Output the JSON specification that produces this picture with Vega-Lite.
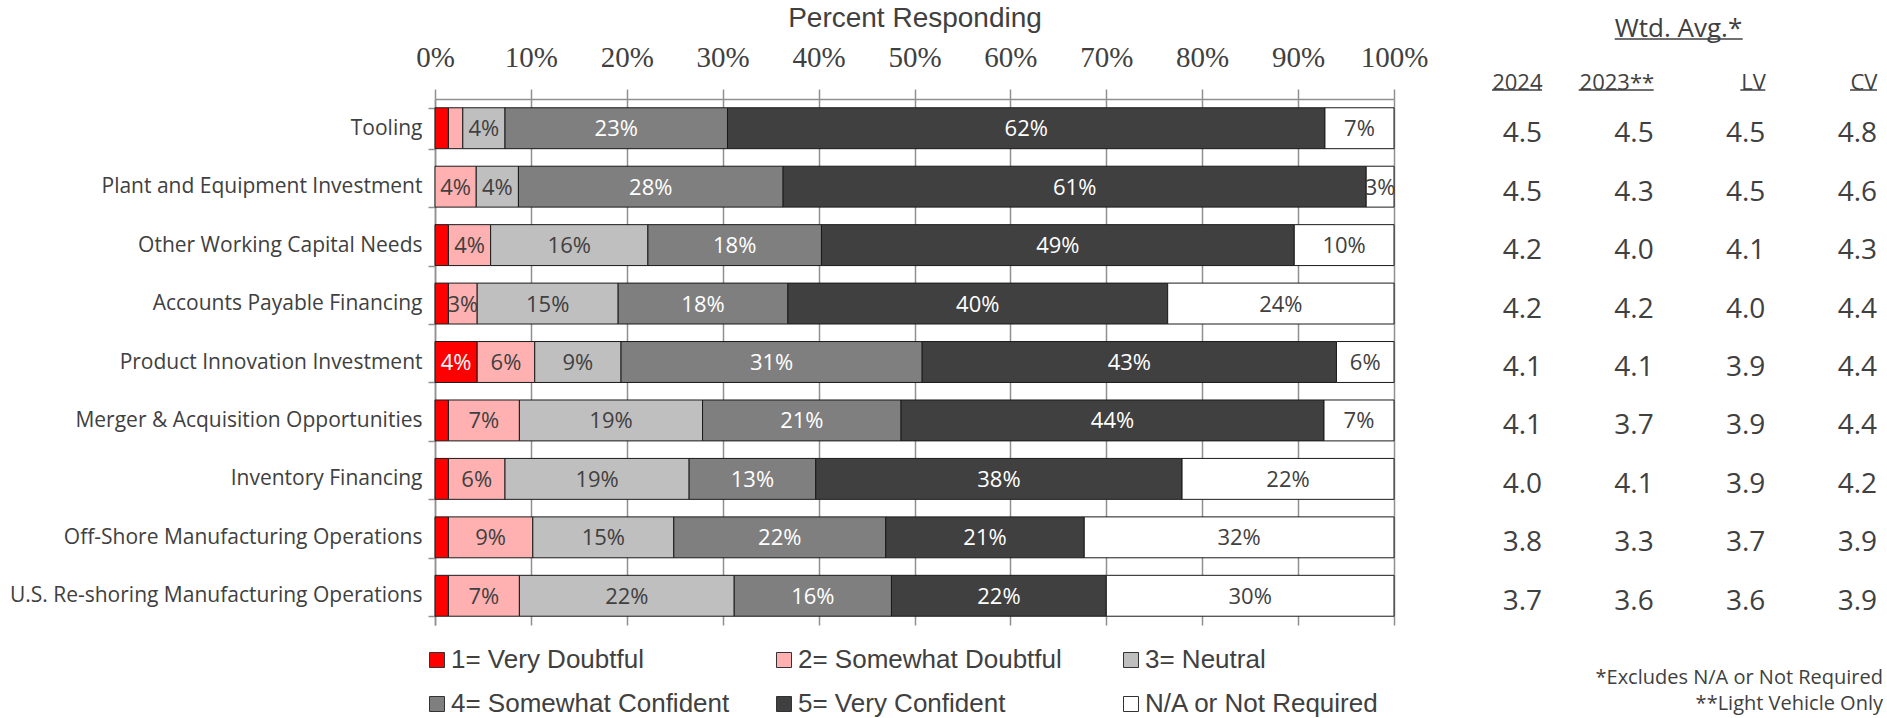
{
  "$schema": "https://vega.github.io/schema/vega-lite/v6.json",
  "autosize": {"type": "none"},
  "padding": {"left": 435, "top": 99, "right": 493, "bottom": 93},
  "width": 959,
  "height": 526,
  "background": "white",
  "config": {"view": {"stroke": null}, "font": "Open Sans"},
  "datasets": {
    "responses": [
      {"item": "Tooling", "response": "1= Very Doubtful", "share": 0.014},
      {"item": "Tooling", "response": "2= Somewhat Doubtful", "share": 0.015},
      {"item": "Tooling", "response": "3= Neutral", "share": 0.044},
      {"item": "Tooling", "response": "4= Somewhat Confident", "share": 0.232},
      {"item": "Tooling", "response": "5= Very Confident", "share": 0.623},
      {"item": "Tooling", "response": "N/A or Not Required", "share": 0.072},
      {"item": "Plant and Equipment Investment", "response": "2= Somewhat Doubtful", "share": 0.043},
      {"item": "Plant and Equipment Investment", "response": "3= Neutral", "share": 0.044},
      {"item": "Plant and Equipment Investment", "response": "4= Somewhat Confident", "share": 0.276},
      {"item": "Plant and Equipment Investment", "response": "5= Very Confident", "share": 0.608},
      {"item": "Plant and Equipment Investment", "response": "N/A or Not Required", "share": 0.029},
      {"item": "Other Working Capital Needs", "response": "1= Very Doubtful", "share": 0.014},
      {"item": "Other Working Capital Needs", "response": "2= Somewhat Doubtful", "share": 0.044},
      {"item": "Other Working Capital Needs", "response": "3= Neutral", "share": 0.164},
      {"item": "Other Working Capital Needs", "response": "4= Somewhat Confident", "share": 0.181},
      {"item": "Other Working Capital Needs", "response": "5= Very Confident", "share": 0.493},
      {"item": "Other Working Capital Needs", "response": "N/A or Not Required", "share": 0.104},
      {"item": "Accounts Payable Financing", "response": "1= Very Doubtful", "share": 0.014},
      {"item": "Accounts Payable Financing", "response": "2= Somewhat Doubtful", "share": 0.030},
      {"item": "Accounts Payable Financing", "response": "3= Neutral", "share": 0.147},
      {"item": "Accounts Payable Financing", "response": "4= Somewhat Confident", "share": 0.177},
      {"item": "Accounts Payable Financing", "response": "5= Very Confident", "share": 0.396},
      {"item": "Accounts Payable Financing", "response": "N/A or Not Required", "share": 0.236},
      {"item": "Product Innovation Investment", "response": "1= Very Doubtful", "share": 0.044},
      {"item": "Product Innovation Investment", "response": "2= Somewhat Doubtful", "share": 0.060},
      {"item": "Product Innovation Investment", "response": "3= Neutral", "share": 0.090},
      {"item": "Product Innovation Investment", "response": "4= Somewhat Confident", "share": 0.314},
      {"item": "Product Innovation Investment", "response": "5= Very Confident", "share": 0.432},
      {"item": "Product Innovation Investment", "response": "N/A or Not Required", "share": 0.060},
      {"item": "Merger & Acquisition Opportunities", "response": "1= Very Doubtful", "share": 0.014},
      {"item": "Merger & Acquisition Opportunities", "response": "2= Somewhat Doubtful", "share": 0.074},
      {"item": "Merger & Acquisition Opportunities", "response": "3= Neutral", "share": 0.191},
      {"item": "Merger & Acquisition Opportunities", "response": "4= Somewhat Confident", "share": 0.207},
      {"item": "Merger & Acquisition Opportunities", "response": "5= Very Confident", "share": 0.441},
      {"item": "Merger & Acquisition Opportunities", "response": "N/A or Not Required", "share": 0.073},
      {"item": "Inventory Financing", "response": "1= Very Doubtful", "share": 0.014},
      {"item": "Inventory Financing", "response": "2= Somewhat Doubtful", "share": 0.059},
      {"item": "Inventory Financing", "response": "3= Neutral", "share": 0.192},
      {"item": "Inventory Financing", "response": "4= Somewhat Confident", "share": 0.132},
      {"item": "Inventory Financing", "response": "5= Very Confident", "share": 0.382},
      {"item": "Inventory Financing", "response": "N/A or Not Required", "share": 0.221},
      {"item": "Off-Shore Manufacturing Operations", "response": "1= Very Doubtful", "share": 0.014},
      {"item": "Off-Shore Manufacturing Operations", "response": "2= Somewhat Doubtful", "share": 0.088},
      {"item": "Off-Shore Manufacturing Operations", "response": "3= Neutral", "share": 0.147},
      {"item": "Off-Shore Manufacturing Operations", "response": "4= Somewhat Confident", "share": 0.221},
      {"item": "Off-Shore Manufacturing Operations", "response": "5= Very Confident", "share": 0.207},
      {"item": "Off-Shore Manufacturing Operations", "response": "N/A or Not Required", "share": 0.323},
      {"item": "U.S. Re-shoring Manufacturing Operations", "response": "1= Very Doubtful", "share": 0.014},
      {"item": "U.S. Re-shoring Manufacturing Operations", "response": "2= Somewhat Doubtful", "share": 0.074},
      {"item": "U.S. Re-shoring Manufacturing Operations", "response": "3= Neutral", "share": 0.224},
      {"item": "U.S. Re-shoring Manufacturing Operations", "response": "4= Somewhat Confident", "share": 0.164},
      {"item": "U.S. Re-shoring Manufacturing Operations", "response": "5= Very Confident", "share": 0.224},
      {"item": "U.S. Re-shoring Manufacturing Operations", "response": "N/A or Not Required", "share": 0.300}
    ],
    "averages": [
      {"item": "Tooling", "column": "2024", "avg": 4.5},
      {"item": "Tooling", "column": "2023**", "avg": 4.5},
      {"item": "Tooling", "column": "LV", "avg": 4.5},
      {"item": "Tooling", "column": "CV", "avg": 4.8},
      {"item": "Plant and Equipment Investment", "column": "2024", "avg": 4.5},
      {"item": "Plant and Equipment Investment", "column": "2023**", "avg": 4.3},
      {"item": "Plant and Equipment Investment", "column": "LV", "avg": 4.5},
      {"item": "Plant and Equipment Investment", "column": "CV", "avg": 4.6},
      {"item": "Other Working Capital Needs", "column": "2024", "avg": 4.2},
      {"item": "Other Working Capital Needs", "column": "2023**", "avg": 4.0},
      {"item": "Other Working Capital Needs", "column": "LV", "avg": 4.1},
      {"item": "Other Working Capital Needs", "column": "CV", "avg": 4.3},
      {"item": "Accounts Payable Financing", "column": "2024", "avg": 4.2},
      {"item": "Accounts Payable Financing", "column": "2023**", "avg": 4.2},
      {"item": "Accounts Payable Financing", "column": "LV", "avg": 4.0},
      {"item": "Accounts Payable Financing", "column": "CV", "avg": 4.4},
      {"item": "Product Innovation Investment", "column": "2024", "avg": 4.1},
      {"item": "Product Innovation Investment", "column": "2023**", "avg": 4.1},
      {"item": "Product Innovation Investment", "column": "LV", "avg": 3.9},
      {"item": "Product Innovation Investment", "column": "CV", "avg": 4.4},
      {"item": "Merger & Acquisition Opportunities", "column": "2024", "avg": 4.1},
      {"item": "Merger & Acquisition Opportunities", "column": "2023**", "avg": 3.7},
      {"item": "Merger & Acquisition Opportunities", "column": "LV", "avg": 3.9},
      {"item": "Merger & Acquisition Opportunities", "column": "CV", "avg": 4.4},
      {"item": "Inventory Financing", "column": "2024", "avg": 4.0},
      {"item": "Inventory Financing", "column": "2023**", "avg": 4.1},
      {"item": "Inventory Financing", "column": "LV", "avg": 3.9},
      {"item": "Inventory Financing", "column": "CV", "avg": 4.2},
      {"item": "Off-Shore Manufacturing Operations", "column": "2024", "avg": 3.8},
      {"item": "Off-Shore Manufacturing Operations", "column": "2023**", "avg": 3.3},
      {"item": "Off-Shore Manufacturing Operations", "column": "LV", "avg": 3.7},
      {"item": "Off-Shore Manufacturing Operations", "column": "CV", "avg": 3.9},
      {"item": "U.S. Re-shoring Manufacturing Operations", "column": "2024", "avg": 3.7},
      {"item": "U.S. Re-shoring Manufacturing Operations", "column": "2023**", "avg": 3.6},
      {"item": "U.S. Re-shoring Manufacturing Operations", "column": "LV", "avg": 3.6},
      {"item": "U.S. Re-shoring Manufacturing Operations", "column": "CV", "avg": 3.9}
    ]
  },
  "layer": [
    {
      "data": {"name": "responses"},
      "encoding": {
        "y": {
          "field": "item",
          "type": "nominal",
          "scale": {
            "domain": ["Tooling", "Plant and Equipment Investment", "Other Working Capital Needs", "Accounts Payable Financing", "Product Innovation Investment", "Merger & Acquisition Opportunities", "Inventory Financing", "Off-Shore Manufacturing Operations", "U.S. Re-shoring Manufacturing Operations"],
            "paddingInner": 0.3,
            "paddingOuter": 0.15
          },
          "axis": {
            "orient": "left",
            "title": null,
            "tickBand": "extent",
            "tickSize": 7,
            "tickColor": "#909090",
            "tickWidth": 1.5,
            "domainColor": "#909090",
            "domainWidth": 1.5,
            "labelFont": "Open Sans",
            "labelFontSize": 21,
            "labelColor": "#404040",
            "labelPadding": 6,
            "labelLimit": 500
          }
        }
      },
      "layer": [
        {
          "mark": {"type": "bar", "stroke": "#1a1a1a", "strokeWidth": 1},
          "encoding": {
            "x": {
              "field": "share",
              "type": "quantitative",
              "stack": "zero",
              "scale": {"domain": [0, 1], "nice": false},
              "axis": {
                "orient": "top",
                "values": [0, 0.1, 0.2, 0.3, 0.4, 0.5, 0.6, 0.7, 0.8, 0.9, 1],
                "format": ".0%",
                "labelFlush": false,
                "labelOverlap": false,
                "grid": true,
                "gridColor": "#909090",
                "gridWidth": 1.5,
                "domainColor": "#909090",
                "domainWidth": 1.5,
                "tickColor": "#909090",
                "tickWidth": 1.5,
                "tickSize": 10,
                "labelFont": "Liberation Sans Narrow",
                "labelFontSize": 29,
                "labelColor": "#404040",
                "labelPadding": 17,
                "title": "Percent Responding",
                "titleFont": "Liberation Sans",
                "titleFontSize": 28,
                "titleFontWeight": "normal",
                "titleColor": "#404040",
                "titleBaseline": "alphabetic",
                "titleY": -73
              }
            },
            "color": {
              "field": "response",
              "type": "nominal",
              "scale": {
                "domain": ["1= Very Doubtful", "2= Somewhat Doubtful", "3= Neutral", "4= Somewhat Confident", "5= Very Confident", "N/A or Not Required"],
                "range": ["#ff0000", "#ffb1b1", "#bfbfbf", "#7f7f7f", "#404040", "#ffffff"]
              },
              "legend": {
                "orient": "none",
                "direction": "horizontal",
                "legendX": -11,
                "legendY": 548,
                "columns": 3,
                "gridAlign": "all",
                "columnPadding": 41,
                "rowPadding": 18,
                "padding": 0,
                "title": null,
                "symbolType": "square",
                "symbolSize": 225,
                "symbolStrokeColor": "#333333",
                "symbolStrokeWidth": 1,
                "labelFont": "Liberation Sans",
                "labelFontSize": 26,
                "labelColor": "#404040",
                "labelLimit": 500,
                "labelOffset": 1
              }
            },
            "order": {"field": "response", "sort": "ascending"}
          }
        },
        {
          "mark": {"type": "text", "font": "Open Sans", "fontSize": 22, "baseline": "middle", "dy": 1},
          "encoding": {
            "x": {"field": "share", "type": "quantitative", "stack": "zero", "bandPosition": 0.5},
            "detail": {"field": "response"},
            "order": {"field": "response", "sort": "ascending"},
            "text": {
              "condition": {"test": "datum.share >= 0.025", "field": "share", "type": "quantitative", "format": ".0%"},
              "value": ""
            },
            "fill": {
              "condition": {"test": "datum.response == '1= Very Doubtful' || datum.response == '4= Somewhat Confident' || datum.response == '5= Very Confident'", "value": "#ffffff"},
              "value": "#404040"
            }
          }
        }
      ]
    },
    {
      "data": {"name": "averages"},
      "encoding": {
        "x": {
          "field": "column",
          "type": "nominal",
          "scale": {"type": "point", "domain": ["2024", "2023**", "LV", "CV"], "range": [1107, 1442], "padding": 0},
          "axis": {
            "orient": "top",
            "ticks": false,
            "tickSize": 0,
            "domain": false,
            "grid": false,
            "labelAngle": 0,
            "labelAlign": "right",
            "labelBaseline": "middle",
            "labelPadding": 17,
            "labelFont": "Open Sans",
            "labelFontSize": 22,
            "labelColor": "#404040",
            "title": "Wtd. Avg.*",
            "titleFont": "Open Sans",
            "titleFontSize": 26,
            "titleFontWeight": "normal",
            "titleColor": "#404040",
            "titleAlign": "center",
            "titleBaseline": "middle",
            "titleX": 1243,
            "titleY": -71
          }
        }
      },
      "layer": [
        {
          "mark": {"type": "text", "align": "right", "baseline": "middle", "font": "Open Sans", "fontSize": 28, "fill": "#404040", "dy": 6},
          "encoding": {
            "y": {
              "field": "item",
              "type": "nominal",
              "scale": {
                "domain": ["Tooling", "Plant and Equipment Investment", "Other Working Capital Needs", "Accounts Payable Financing", "Product Innovation Investment", "Merger & Acquisition Opportunities", "Inventory Financing", "Off-Shore Manufacturing Operations", "U.S. Re-shoring Manufacturing Operations"],
                "paddingInner": 0.3,
                "paddingOuter": 0.15
              },
              "axis": null
            },
            "text": {"field": "avg", "type": "quantitative", "format": ".1f"}
          }
        },
        {
          "data": {"values": [{"header": "2024"}]},
          "mark": {"type": "rule", "orient": "horizontal", "stroke": "#404040", "strokeWidth": 1.5, "xOffset": -50, "yOffset": -272},
          "encoding": {"x": {"datum": "2024"}, "x2": {"datum": "2024"}}
        },
        {
          "data": {"values": [{"header": "2023**"}]},
          "mark": {"type": "rule", "orient": "horizontal", "stroke": "#404040", "strokeWidth": 1.5, "xOffset": -75, "yOffset": -272},
          "encoding": {"x": {"datum": "2023**"}, "x2": {"datum": "2023**"}}
        },
        {
          "data": {"values": [{"header": "LV"}]},
          "mark": {"type": "rule", "orient": "horizontal", "stroke": "#404040", "strokeWidth": 1.5, "xOffset": -25, "yOffset": -272},
          "encoding": {"x": {"datum": "LV"}, "x2": {"datum": "LV"}}
        },
        {
          "data": {"values": [{"header": "CV"}]},
          "mark": {"type": "rule", "orient": "horizontal", "stroke": "#404040", "strokeWidth": 1.5, "xOffset": -27, "yOffset": -272},
          "encoding": {"x": {"datum": "CV"}, "x2": {"datum": "CV"}}
        },
        {
          "data": {"values": [{"header": "Wtd. Avg.*"}]},
          "mark": {"type": "rule", "orient": "horizontal", "stroke": "#404040", "strokeWidth": 1.5, "xOffset": -39, "x2Offset": 89, "yOffset": -323},
          "encoding": {"x": {"datum": "2023**"}, "x2": {"datum": "2023**"}}
        },
        {
          "data": {"values": [{"note": "footnotes"}]},
          "mark": {
            "type": "text",
            "text": ["*Excludes N/A or Not Required", "**Light Vehicle Only"],
            "align": "right",
            "baseline": "middle",
            "lineHeight": 26,
            "font": "Open Sans",
            "fontSize": 20,
            "fill": "#404040",
            "dx": 6,
            "dy": 316
          },
          "encoding": {"x": {"datum": "CV"}}
        }
      ]
    }
  ],
  "resolve": {"scale": {"x": "independent"}, "axis": {"y": "independent"}}
}
